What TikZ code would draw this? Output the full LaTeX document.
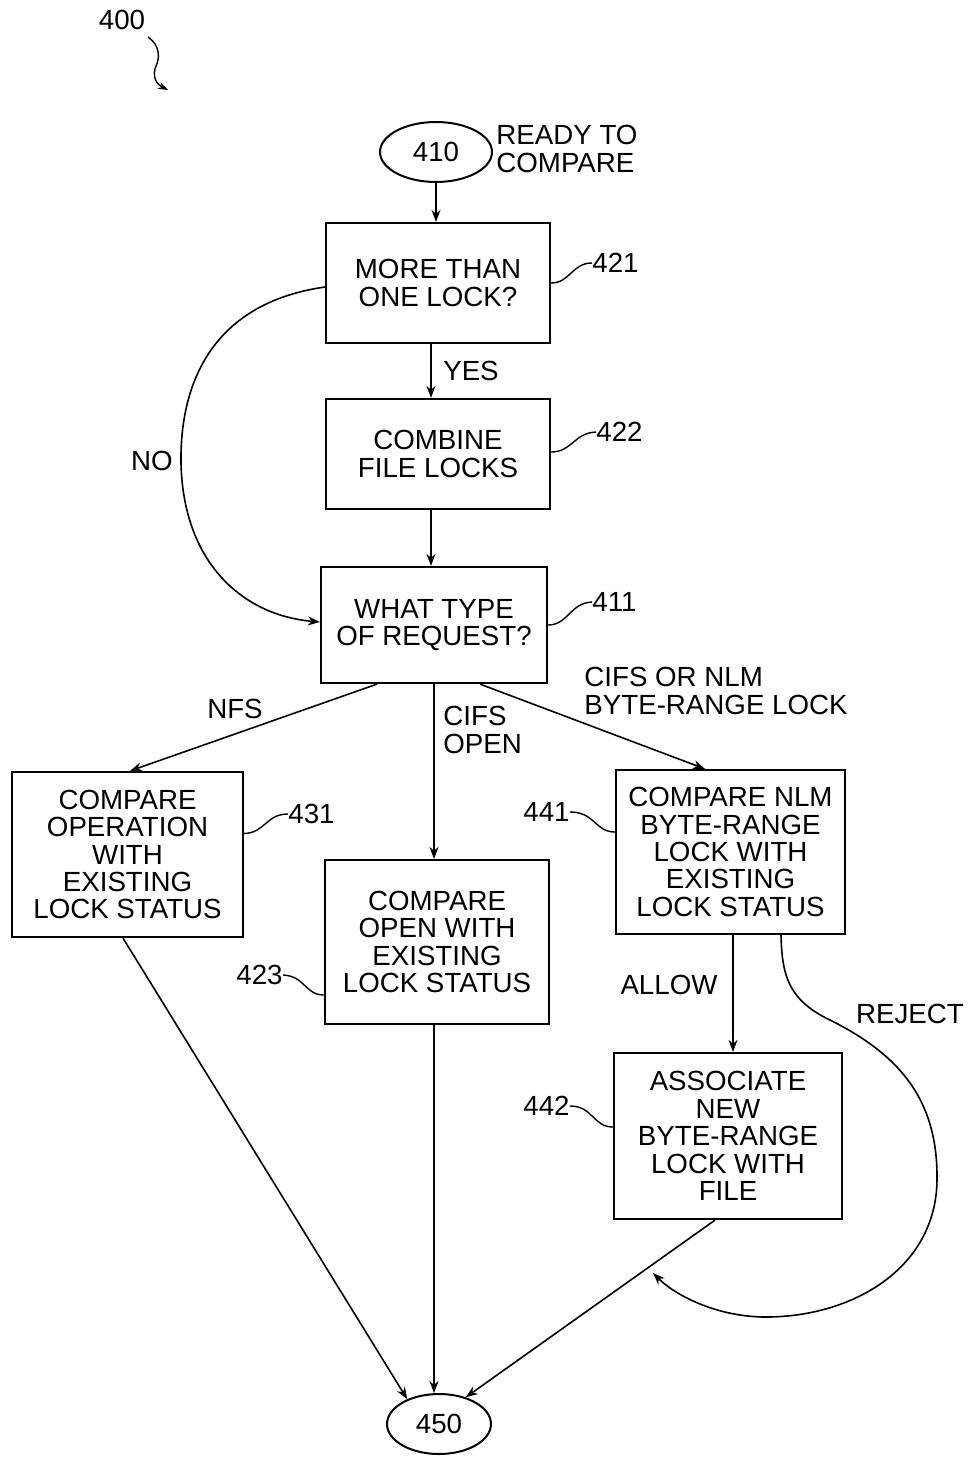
\documentclass[tikz,border=0pt]{standalone}
\usepackage{fontspec}
\setmainfont{Liberation Sans}
\usetikzlibrary{arrows.meta,shapes.geometric}
\begin{document}
\begin{tikzpicture}[x=0.5pt,y=-0.5pt,
  every node/.style={font=\fontsize{13.85pt}{13.7pt}\selectfont, inner sep=0pt},
  box/.style={draw, line width=1.1pt, align=center, rectangle},
  term/.style={draw, ellipse, line width=1pt, minimum width=56pt, minimum height=30pt},
  conn/.style={line width=0.8pt, -{Stealth[length=6pt,width=4.5pt]}},
  lead/.style={line width=0.7pt},
  lbl/.style={align=left, anchor=west}
]
\useasboundingbox (0,0) rectangle (969,1461);

% label 400
\node (n400) at (122,20) {400};
\coordinate (s400a) at (148,37);
\coordinate (s400b) at (168,90);
\draw[lead, -{Stealth[length=5pt,width=3.5pt]}] (s400a) .. controls (160,45) and (160,58) .. (156,66) .. controls (152,76) and (156,84) .. (s400b);

% nodes
\node[term] (n410) at (436,152) {410};
\node[lbl] (t410) at (496,149) {READY TO\\COMPARE};

\node[box, minimum width=112pt, minimum height=60pt] (b421) at (438,283) {MORE THAN\\ONE LOCK?};
\node[box, minimum width=112pt, minimum height=55pt] (b422) at (438,454) {COMBINE\\FILE LOCKS};
\node[box, minimum width=113pt, minimum height=58pt] (b411) at (434,625) {WHAT TYPE\\OF REQUEST?};
\node[box, minimum width=115.5pt, minimum height=82.5pt] (b431) at (127.5,854.5) {COMPARE\\OPERATION\\WITH\\EXISTING\\LOCK STATUS};
\node[box, minimum width=112pt, minimum height=82pt] (b423) at (437,942) {COMPARE\\OPEN WITH\\EXISTING\\LOCK STATUS};
\node[box, minimum width=114.5pt, minimum height=82pt] (b441) at (730.5,852) {COMPARE NLM\\BYTE-RANGE\\LOCK WITH\\EXISTING\\LOCK STATUS};
\node[box, minimum width=114pt, minimum height=83pt] (b442) at (728,1136) {ASSOCIATE\\NEW\\BYTE-RANGE\\LOCK WITH\\FILE};
\node[term, minimum width=52pt] (n450) at (439,1424) {450};

% reference numbers
\node[anchor=west] (l421) at (592,263) {421};
\node[anchor=west] (l422) at (596,432) {422};
\node[anchor=west] (l411) at (592,602) {411};
\node[anchor=west] (l431) at (288,814) {431};
\node[anchor=east] (l423) at (283,975) {423};
\node[anchor=east] (l441) at (570,812) {441};
\node[anchor=east] (l442) at (570,1106) {442};

\draw[lead] (b421.east) .. controls (570,283) and (572,263) .. (l421.west);
\draw[lead] ([yshift=1pt]b422.east) .. controls (572,452) and (574,433) .. (l422.west);
\draw[lead] (b411.east) .. controls (568,625) and (570,603) .. (l411.west);
\draw[lead] ([yshift=10.5pt]b431.east) .. controls (265,833) and (266,814) .. (l431.west);
\draw[lead] (l423.east) .. controls (305,976) and (305,995) .. ([yshift=-26.5pt]b423.west);
\draw[lead] (l441.east) .. controls (595,812) and (595,832) .. ([yshift=10pt]b441.west);
\draw[lead] (l442.east) .. controls (593,1106) and (593,1127) .. ([yshift=4.5pt]b442.west);

% connectors
\draw[conn] (n410.south) -- (n410.south |- b421.north);
\draw[conn] ([xshift=-3.5pt]b421.south) -- ([xshift=-3.5pt]b421.south |- b422.north);
\node (yes) at (471,371) {YES};
\draw[conn] ([xshift=-3.5pt]b422.south) -- ([xshift=-3.5pt]b422.south |- b411.north);

\coordinate (nomid) at (181,463);
\draw[conn] ([yshift=-2pt]b421.west) .. controls (200,305) and (180,400) .. (nomid) .. controls (183,560) and (240,615) .. ([yshift=1.5pt]b411.west);
\node (no) at (152,461) {NO};

\draw[conn] ([xshift=-28.5pt]b411.south) -- ([xshift=1.25pt]b431.north);
\node (nfs) at (235,709) {NFS};
\draw[conn] (b411.south) -- (b411.south |- b423.north);
\node[lbl] (cifsopen) at (443,730) {CIFS\\OPEN};
\draw[conn] ([xshift=23pt]b411.south) -- ([xshift=-12.75pt]b441.north);
\node[lbl] (cifsnlm) at (584,691) {CIFS OR NLM\\BYTE-RANGE LOCK};

\draw[conn] ([xshift=1.25pt]b441.south) -- ([xshift=1.25pt]b441.south |- b442.north);
\node (allow) at (669,985) {ALLOW};

\coordinate (rejtip) at (653,1273);
\draw[conn] ([xshift=25.25pt]b441.south) .. controls (782,975) and (788,1000) .. (830,1020) .. controls (900,1055) and (938,1100) .. (937,1180) .. controls (936,1270) and (850,1318) .. (763,1317) .. controls (715,1316) and (675,1295) .. (rejtip);
\node (reject) at (910,1014) {REJECT};

\draw[conn] ([xshift=-2.25pt]b431.south) -- (n450.142);
\draw[conn] ([xshift=-1.5pt]b423.south) -- ([xshift=-1.5pt]b423.south |- n450.north);
\draw[conn] ([xshift=-6.5pt]b442.south) -- (n450.45);
\end{tikzpicture}
\end{document}
